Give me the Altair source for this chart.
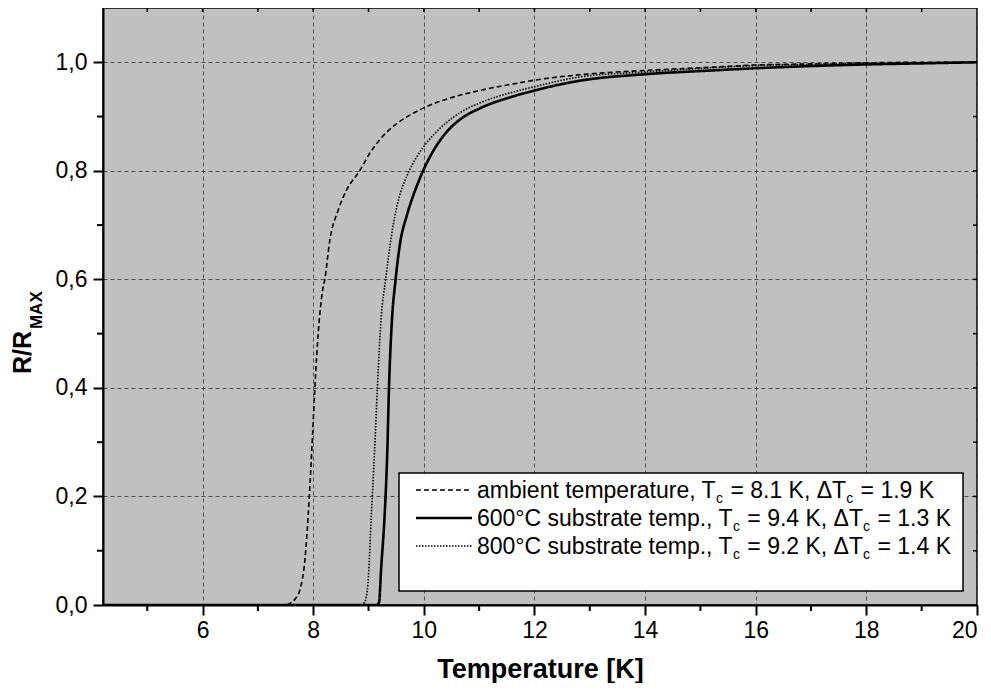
import altair as alt
import pandas as pd

# ---------------- data ----------------
x_ticks = [6, 8, 10, 12, 14, 16, 18, 20]
x_minor = [5, 7, 9, 11, 13, 15, 17, 19]
x_top = [5, 6, 7, 8, 9, 10, 11, 12, 13, 14, 15, 16, 17, 18, 19]
y_ticks = [0.0, 0.2, 0.4, 0.6, 0.8, 1.0]
y_minor = [0.1, 0.3, 0.5, 0.7, 0.9]
y_right = [0.1, 0.2, 0.3, 0.4, 0.5, 0.6, 0.7, 0.8, 0.9, 1.0]

amb_T = [4.2, 7.5, 7.61, 7.68, 7.76, 7.85, 7.93, 7.99, 8.03, 8.09, 8.17, 8.21, 8.30,
         8.45, 8.60, 8.84, 9.02, 9.20, 9.51, 9.81, 10.0, 10.41, 11.01, 11.61, 12.0,
         12.82, 14.0, 15.23, 16.0, 17.0, 18.0, 19.0, 20.0]
amb_R = [0.0, 0.0, 0.005, 0.012, 0.028, 0.083, 0.2, 0.317, 0.4, 0.5, 0.58, 0.6, 0.672,
         0.727, 0.764, 0.8, 0.832, 0.857, 0.887, 0.906, 0.916, 0.932, 0.948, 0.960, 0.967,
         0.977, 0.985, 0.991, 0.995, 0.997, 0.999, 1.0, 1.0]

s600_T = [4.2, 9.15, 9.19, 9.23, 9.29, 9.34, 9.37, 9.42, 9.49, 9.57, 9.69, 9.80, 9.90,
          10.0, 10.15, 10.30, 10.47, 10.7, 11.01, 11.61, 12.0, 12.82, 14.0, 15.23, 16.0,
          17.0, 18.0, 19.0, 20.0]
s600_R = [0.0, 0.0, 0.005, 0.07, 0.163, 0.285, 0.4, 0.519, 0.6, 0.666, 0.717, 0.752, 0.779,
          0.803, 0.833, 0.857, 0.878, 0.898, 0.915, 0.937, 0.948, 0.966, 0.978, 0.985, 0.989,
          0.993, 0.996, 0.998, 1.0]

s800_T = [4.2, 8.85, 8.93, 8.99, 9.05, 9.11, 9.16, 9.23, 9.31, 9.42, 9.55, 9.65, 9.75,
          9.88, 10.0, 10.2, 10.41, 10.7, 11.01, 11.61, 12.0, 12.82, 14.0, 15.23, 16.0,
          17.0, 18.0, 19.0, 20.0]
s800_R = [0.0, 0.0, 0.005, 0.04, 0.163, 0.285, 0.4, 0.531, 0.6, 0.684, 0.75, 0.78, 0.803,
          0.827, 0.845, 0.869, 0.889, 0.91, 0.925, 0.945, 0.955, 0.973, 0.982, 0.99, 0.994,
          0.996, 0.998, 0.999, 1.0]

# legend text pieces: (text, is_subscript, leading gap in spaces)
legend_rows = [
    [("ambient temperature, T", 0, 0), ("c", 1, 0), ("= 8.1 K, \u0394T", 0, 1), ("c", 1, 0), ("= 1.9 K", 0, 1)],
    [("600\u00b0C substrate temp., T", 0, 0), ("c", 1, 0), ("= 9.4 K, \u0394T", 0, 1), ("c", 1, 0), ("= 1.3 K", 0, 1)],
    [("800\u00b0C substrate temp., T", 0, 0), ("c", 1, 0), ("= 9.2 K, \u0394T", 0, 1), ("c", 1, 0), ("= 1.4 K", 0, 1)],
]

# ---------------- layout / style ----------------
W, H = 874, 597
FONT = "Liberation Sans"
FS = 23
SUB = 14

xs = alt.Scale(domain=[4.2, 20], nice=False, zero=False)
ys = alt.Scale(domain=[0, 1.1], nice=False, zero=False)

X_AX = alt.Axis(values=x_ticks, format="d", title="Temperature [K]", titleFont=FONT,
                titleFontSize=27, titleFontWeight="bold", titleColor="black", titlePadding=14,
                labelFont=FONT, labelFontSize=23, labelColor="black", labelPadding=4,
                tickSize=10, tickWidth=2, tickColor="black", domainColor="black", domainWidth=2,
                grid=True, gridDash=[4, 3], gridColor="#505050", gridWidth=1, gridOpacity=1)
Y_AX = alt.Axis(values=y_ticks, labelExpr="replace(format(datum.value, '.1f'), '.', ',')",
                title=None, labelFont=FONT, labelFontSize=23, labelColor="black", labelPadding=6,
                tickSize=10, tickWidth=2, tickColor="black", domainColor="black", domainWidth=2,
                grid=True, gridDash=[4, 3], gridColor="#505050", gridWidth=1, gridOpacity=1)

series = [
    ("ambient", amb_T, amb_R, [5, 3], 1.6),
    ("600", s600_T, s600_R, [1, 0], 2.6),
    ("800", s800_T, s800_R, [1.5, 1.5], 1.6),
]

layers = []
for name, T, R, dash, sw in series:
    d = pd.DataFrame({"T": T, "R": R})
    layers.append(
        alt.Chart(d).mark_line(color="black", strokeDash=dash, strokeWidth=sw,
                               interpolate="monotone", clip=True)
        .encode(x=alt.X("T:Q", scale=xs, axis=X_AX), y=alt.Y("R:Q", scale=ys, axis=Y_AX))
    )

# minor / inner ticks
dfx_minor = pd.DataFrame({"T": x_minor})
layers.append(alt.Chart(dfx_minor).mark_rule(color="black", strokeWidth=2)
              .encode(x=alt.X("T:Q", scale=xs, axis=X_AX), y=alt.value(H), y2=alt.value(H + 6)))
dfx_top = pd.DataFrame({"T": x_top})
layers.append(alt.Chart(dfx_top).mark_rule(color="black", strokeWidth=1.5)
              .encode(x=alt.X("T:Q", scale=xs, axis=X_AX), y=alt.value(0), y2=alt.value(4)))
dfy_minor = pd.DataFrame({"R": y_minor})
layers.append(alt.Chart(dfy_minor).mark_rule(color="black", strokeWidth=2)
              .encode(y=alt.Y("R:Q", scale=ys, axis=Y_AX), x=alt.value(-6), x2=alt.value(0)))
dfy_right = pd.DataFrame({"R": y_right})
layers.append(alt.Chart(dfy_right).mark_rule(color="black", strokeWidth=1.5)
              .encode(y=alt.Y("R:Q", scale=ys, axis=Y_AX), x=alt.value(W - 4), x2=alt.value(W)))

# legend
dummy = pd.DataFrame({"a": [0]})
LX0, LX1, LY0, LY1 = 296, 860, 465, 583
layers.append(alt.Chart(dummy).mark_rect(fill="white", stroke="black", strokeWidth=1.5)
              .encode(x=alt.value(LX0), x2=alt.value(LX1), y=alt.value(LY0), y2=alt.value(LY1)))

WID = {'a': 556, 'b': 556, 'c': 500, 'e': 556, 'i': 222, 'm': 833, 'n': 556, 'p': 556,
       'r': 333, 's': 500, 't': 278, 'u': 556, ' ': 278, ',': 278, '.': 278,
       'T': 611, '=': 584, 'K': 667, 'C': 722, '\u00b0': 400, '\u0394': 668}


def tw(s, size):
    return sum(WID.get(ch, 556) for ch in s) * size / 1000.0


row_y = [482, 510, 538]
for (name, T, R, dash, sw), segs, ry in zip(series, legend_rows, row_y):
    layers.append(alt.Chart(dummy).mark_rule(color="black", strokeDash=dash, strokeWidth=sw)
                  .encode(x=alt.value(313), x2=alt.value(369), y=alt.value(ry)))
    xpos = 374.0
    for s, is_sub, gap in segs:
        size = SUB if is_sub else FS
        xpos += gap * tw(" ", FS)
        layers.append(alt.Chart(dummy).mark_text(text=s, font=FONT, fontSize=size, color="black",
                                                 align="left", baseline="alphabetic")
                      .encode(x=alt.value(xpos), y=alt.value(ry + (13 if is_sub else 8))))
        xpos += tw(s, size) + (1 if is_sub else 0)

# y-axis title R/R_MAX (rotated, with subscript)
RS = 25
layers.append(alt.Chart(dummy).mark_text(text="R/R", font=FONT, fontSize=RS, fontWeight="bold",
                                         color="black", angle=270, align="left", baseline="alphabetic")
              .encode(x=alt.value(-72), y=alt.value(366)))
layers.append(alt.Chart(dummy).mark_text(text="MAX", font=FONT, fontSize=17, fontWeight="bold",
                                         color="black", angle=270, align="left", baseline="alphabetic")
              .encode(x=alt.value(-61), y=alt.value(366 - tw("R/R", RS) * 1.03 - 2)))

chart = (
    alt.layer(*layers)
    .properties(width=W, height=H, autosize=alt.AutoSizeParams(type="none"),
                padding={"left": 95, "top": 0, "right": 6, "bottom": 78})
    .configure_view(fill="#C0C0C0", stroke="black", strokeWidth=1.5)
)

chart.save("out.html", embed_options={"renderer": "svg", "actions": False})
